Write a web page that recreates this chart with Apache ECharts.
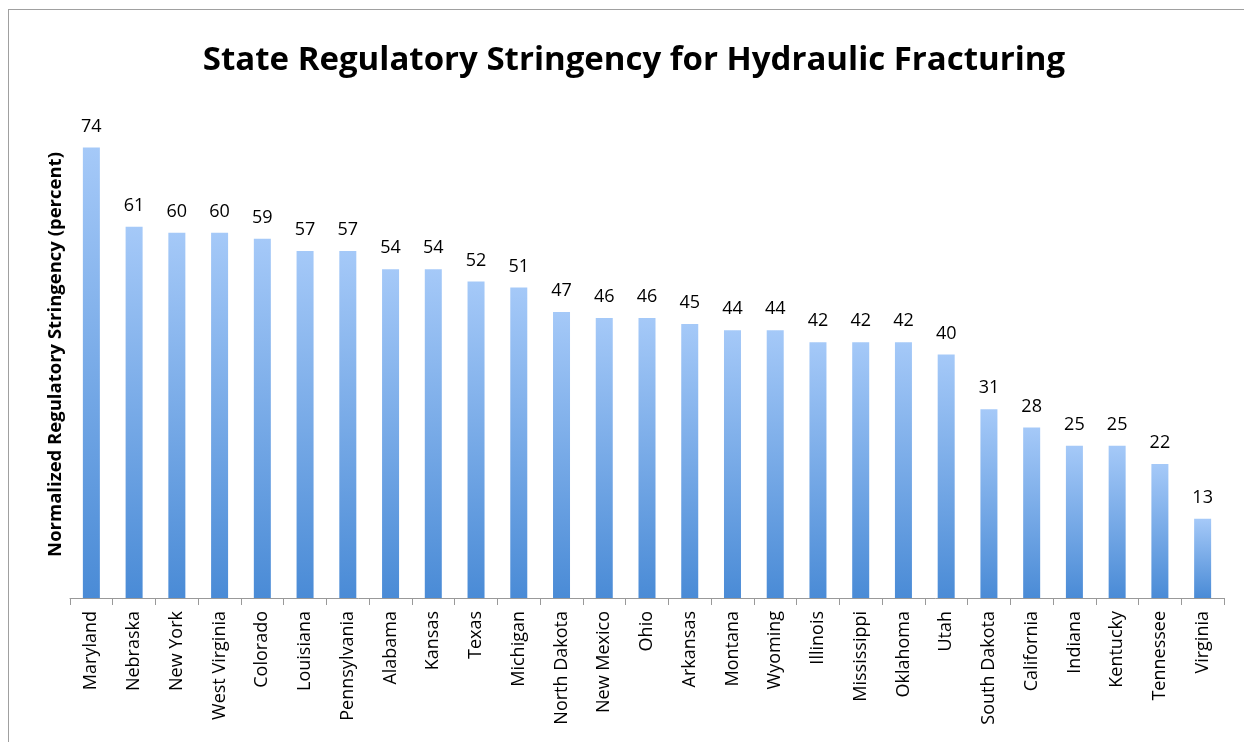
<!DOCTYPE html>
<html>
<head>
<meta charset="utf-8">
<script src="https://cdn.jsdelivr.net/npm/echarts@6/dist/echarts.min.js"></script>
<style>
  html, body { margin: 0; padding: 0; background: #fff; overflow: hidden; width: 1244px; height: 742px; }
  .frame {
    position: fixed;
    left: 8px;
    top: 9px;
    right: -50px;
    bottom: -50px;
    border-left: 1px solid #a0a0a0;
    border-top: 1px solid #a0a0a0;
  }
  #chart { position: absolute; left: 0; top: 0; width: 1244px; height: 742px; }
</style>
</head>
<body>
<div class="frame"></div>
<div id="chart"></div>
<script>
const states = ['Maryland', 'Nebraska', 'New York', 'West Virginia', 'Colorado', 'Louisiana',
  'Pennsylvania', 'Alabama', 'Kansas', 'Texas', 'Michigan', 'North Dakota', 'New Mexico',
  'Ohio', 'Arkansas', 'Montana', 'Wyoming', 'Illinois', 'Mississippi', 'Oklahoma', 'Utah',
  'South Dakota', 'California', 'Indiana', 'Kentucky', 'Tennessee', 'Virginia'];
const stringency = [74, 61, 60, 60, 59, 57, 57, 54, 54, 52, 51, 47, 46, 46, 45, 44, 44,
  42, 42, 42, 40, 31, 28, 25, 25, 22, 13];

const chart = echarts.init(document.getElementById('chart'));
const font = '"Open Sans", "Noto Sans", sans-serif';

chart.setOption({
  animation: false,
  title: {
    text: 'State Regulatory Stringency for Hydraulic Fracturing',
    left: 629,
    textAlign: 'center',
    top: 39,
    textStyle: {
      fontFamily: font,
      fontWeight: 'bold',
      fontSize: 33,
      color: '#000'
    }
  },
  grid: {
    left: 70,
    right: 20,
    top: 111,
    bottom: 144
  },
  xAxis: {
    type: 'category',
    data: states,
    axisLine: { lineStyle: { color: '#999', width: 1 } },
    axisTick: { show: true, length: 7, lineStyle: { color: '#999' } },
    axisLabel: {
      interval: 0,
      rotate: 90,
      margin: 13,
      fontFamily: font,
      fontSize: 18,
      color: '#000'
    }
  },
  yAxis: {
    type: 'value',
    min: 0,
    max: 80,
    name: 'Normalized Regulatory Stringency (percent)',
    nameLocation: 'middle',
    nameGap: 5,
    nameTextStyle: {
      fontFamily: font,
      fontWeight: 'bold',
      fontSize: 18.5,
      color: '#000'
    },
    axisLine: { show: false },
    axisTick: { show: false },
    axisLabel: { show: false },
    splitLine: { show: false }
  },
  series: [{
    type: 'bar',
    data: stringency,
    barWidth: 17,
    itemStyle: {
      color: new echarts.graphic.LinearGradient(0, 0, 0, 1, [
        { offset: 0, color: '#a5c9f8' },
        { offset: 1, color: '#4a8bd6' }
      ])
    },
    label: {
      show: true,
      position: 'top',
      distance: 12,
      fontFamily: font,
      fontSize: 18,
      color: '#000'
    }
  }]
});
</script>
</body>
</html>
